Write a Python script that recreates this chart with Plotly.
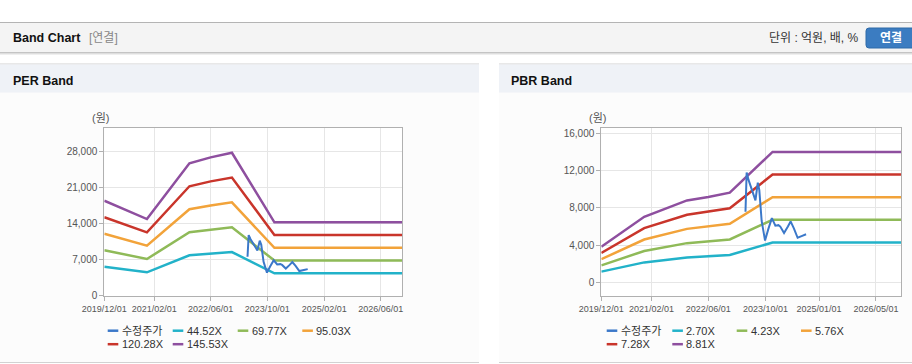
import plotly.graph_objects as go

# ---------------- data ----------------
band_dates = ["2019-12-01", "2020-12-01", "2021-12-01", "2022-06-01",
              "2022-12-01", "2023-12-01", "2026-12-01"]

per_names = ["44.52X", "69.77X", "95.03X", "120.28X", "145.53X"]
per_44 = [5650, 4561, 7876, 8227, 8503, 4366, 4366]
per_69 = [8854, 7148, 12342, 12894, 13326, 6842, 6842]
per_95 = [12059, 9736, 16811, 17562, 18151, 9319, 9319]
per_120 = [15264, 12323, 21278, 22228, 22973, 11795, 11795]
per_145 = [18468, 14910, 25744, 26894, 27796, 14271, 14271]

pbr_names = ["2.70X", "4.23X", "5.76X", "7.28X", "8.81X"]
pbr_270 = [1174, 2161, 2697, 2810, 2951, 4291, 4291]
pbr_423 = [1839, 3385, 4225, 4403, 4624, 6722, 6722]
pbr_576 = [2504, 4609, 5754, 5996, 6296, 9153, 9153]
pbr_728 = [3165, 5826, 7272, 7578, 7958, 11569, 11569]
pbr_881 = [3830, 7050, 8800, 9170, 9630, 14000, 14000]

price_name = "수정주가"
price_dates = ["2023-04-14", "2023-04-24", "2023-05-10", "2023-06-05", "2023-06-25",
               "2023-07-08", "2023-07-28", "2023-08-10", "2023-08-30", "2023-09-28",
               "2023-10-25", "2023-11-25", "2023-12-25", "2024-01-20", "2024-02-05",
               "2024-03-08", "2024-04-10", "2024-05-03", "2024-05-31", "2024-07-02",
               "2024-08-10", "2024-09-12"]
price_values = [7590, 11800, 11000, 10000, 9300,
                8800, 10700, 9900, 6600, 4500,
                5700, 6900, 6100, 6150, 6000,
                5300, 6000, 6550, 5800, 4800,
                5000, 5180]

per_xticks = ["2019-12-01", "2021-02-01", "2022-06-01", "2023-10-01", "2025-02-01", "2026-06-01"]
pbr_xticks = ["2019-12-01", "2021-02-01", "2022-06-01", "2023-10-01", "2025-01-01", "2026-05-01"]
per_yticks = [0, 7000, 14000, 21000, 28000]
pbr_yticks = [0, 4000, 8000, 12000, 16000]

colors = ["#3b78c9", "#22b2c9", "#8fba58", "#f2a33a", "#c9352b", "#8e4f9f"]

# ---------------- layout helpers ----------------
W, H = 912, 364
FONT = "Liberation Sans, Noto Sans CJK KR, sans-serif"


def fx(x):
    return x / W


def fy(y):
    return 1 - y / H


fig = go.Figure()

per_series = [per_44, per_69, per_95, per_120, per_145]
pbr_series = [pbr_270, pbr_423, pbr_576, pbr_728, pbr_881]

for i, vals in enumerate(per_series):
    fig.add_trace(go.Scatter(x=band_dates, y=vals, mode="lines", name=per_names[i],
                             line=dict(color=colors[i + 1], width=2.5),
                             xaxis="x", yaxis="y", showlegend=False, hoverinfo="skip"))
fig.add_trace(go.Scatter(x=price_dates, y=price_values, mode="lines", name=price_name,
                         line=dict(color=colors[0], width=2),
                         xaxis="x", yaxis="y", showlegend=False, hoverinfo="skip"))

for i, vals in enumerate(pbr_series):
    fig.add_trace(go.Scatter(x=band_dates, y=vals, mode="lines", name=pbr_names[i],
                             line=dict(color=colors[i + 1], width=2.5),
                             xaxis="x2", yaxis="y2", showlegend=False, hoverinfo="skip"))
fig.add_trace(go.Scatter(x=price_dates, y=price_values, mode="lines", name=price_name,
                         line=dict(color=colors[0], width=2),
                         xaxis="x2", yaxis="y2", showlegend=False, hoverinfo="skip"))

axis_common = dict(showgrid=True, gridcolor="#e6e6e6", gridwidth=1,
                   showline=True, linecolor="#b0b0b0", linewidth=1, mirror=True,
                   ticks="outside", ticklen=4, tickcolor="#b0b0b0",
                   zeroline=False, fixedrange=True, automargin=False)

xr = ["2019-11-30 18:00", "2026-12-01"]
ydom = [fy(296), fy(128)]

fig.update_layout(
    template="none",
    width=W, height=H, autosize=False,
    margin=dict(l=0, r=0, t=0, b=0, pad=0, autoexpand=False),
    paper_bgcolor="white", plot_bgcolor="white",
    showlegend=False,
    font=dict(family=FONT, size=10, color="#555"),
    xaxis=dict(domain=[fx(104.3), fx(402)], type="date", range=xr, tickvals=per_xticks,
               tickformat="%Y/%m/%d", tickfont=dict(size=9, color="#555"), anchor="y",
               **axis_common),
    yaxis=dict(domain=ydom, range=[-40, 32600], tickvals=per_yticks, tickformat=",d",
               tickfont=dict(size=10, color="#555"), anchor="x", **axis_common),
    xaxis2=dict(domain=[fx(601.3), fx(901)], type="date", range=xr, tickvals=pbr_xticks,
                tickformat="%Y/%m/%d", tickfont=dict(size=9, color="#555"), anchor="y2",
                **axis_common),
    yaxis2=dict(domain=ydom, range=[-1440, 16560], tickvals=pbr_yticks, tickformat=",d",
                tickfont=dict(size=10, color="#555"), anchor="x2", **axis_common),
)

shapes = []


def rect(x0, y0, x1, y1, color, layer="below"):
    shapes.append(dict(type="rect", xref="paper", yref="paper",
                       x0=fx(x0), x1=fx(x1), y0=fy(y1), y1=fy(y0),
                       fillcolor=color, line=dict(width=0), layer=layer))


# page header
rect(0, 22, W, 23, "#b4b4b4")
rect(0, 23, W, 52, "#f4f4f4")
rect(0, 52, W, 53, "#c4c4c4")
rect(0, 53, W, 54, "#dedede")
rect(0, 54, W, 55, "#efefef")
# panels
for (a, b) in [(0, 479), (499, W)]:
    rect(a, 63.5, b, 64.5, "#d2d2d2")
    rect(a, 64.5, b, 92.7, "#eff2f7")
    rect(a, 92.7, b, 362, "#fcfcfc")
    rect(a, 362, b, 363, "#d2d2d2")

# white plot areas
for xa, ya in [("x", "y"), ("x2", "y2")]:
    shapes.append(dict(type="rect", xref=xa + " domain", yref=ya + " domain",
                       x0=0, x1=1, y0=0, y1=1, fillcolor="white",
                       line=dict(width=0), layer="below"))

# button
bx0, bx1, by0, by1, r = 866, 916, 28, 48, 3
path = (f"M {fx(bx0 + r)},{fy(by0)} L {fx(bx1)},{fy(by0)} L {fx(bx1)},{fy(by1)} "
        f"L {fx(bx0 + r)},{fy(by1)} Q {fx(bx0)},{fy(by1)} {fx(bx0)},{fy(by1 - r)} "
        f"L {fx(bx0)},{fy(by0 + r)} Q {fx(bx0)},{fy(by0)} {fx(bx0 + r)},{fy(by0)} Z")
shapes.append(dict(type="path", xref="paper", yref="paper", path=path,
                   fillcolor="#3b7cc1", line=dict(color="#2f6aa8", width=1), layer="above"))

annotations = []


def text(x, y, s, size=12, color="#222", bold=False, anchor="left"):
    annotations.append(dict(xref="paper", yref="paper", x=fx(x), y=fy(y),
                            text=f"<b>{s}</b>" if bold else s, showarrow=False,
                            xanchor=anchor, yanchor="middle",
                            font=dict(family=FONT, size=size, color=color)))


text(10.5, 38, "Band Chart", 12.5, "#111", True)
text(87, 38, "[연결]", 12, "#888")
text(861, 38, "단위 : 억원, 배, %", 12, "#333", anchor="right")
text(891, 38, "연결", 12, "white", True, anchor="center")
text(10.5, 80.5, "PER Band", 12.5, "#111", True)
text(509, 80.5, "PBR Band", 12.5, "#111", True)
text(100, 118, "(원)", 11, "#555", anchor="center")
text(597, 118, "(원)", 11, "#555", anchor="center")

# legends
legend_sets = [
    ([price_name] + per_names, [107.7, 172.7, 237.7, 302.3]),
    ([price_name] + pbr_names, [606.7, 672.3, 736.7, 801.0]),
]
for names, cols in legend_sets:
    for k, nm in enumerate(names):
        row, col = divmod(k, 4)
        x0 = cols[col]
        yc = 330.7 + row * 13.5
        shapes.append(dict(type="line", xref="paper", yref="paper",
                           x0=fx(x0), x1=fx(x0 + 10.6), y0=fy(yc), y1=fy(yc),
                           line=dict(color=colors[k], width=2.5), layer="above"))
        text(x0 + 12, yc, nm, 11, "#333")

fig.update_layout(shapes=shapes, annotations=annotations)

fig.write_html("out.html", config={"displayModeBar": False, "staticPlot": True},
               post_script="document.body.style.margin='0';document.body.style.overflow='hidden';")
